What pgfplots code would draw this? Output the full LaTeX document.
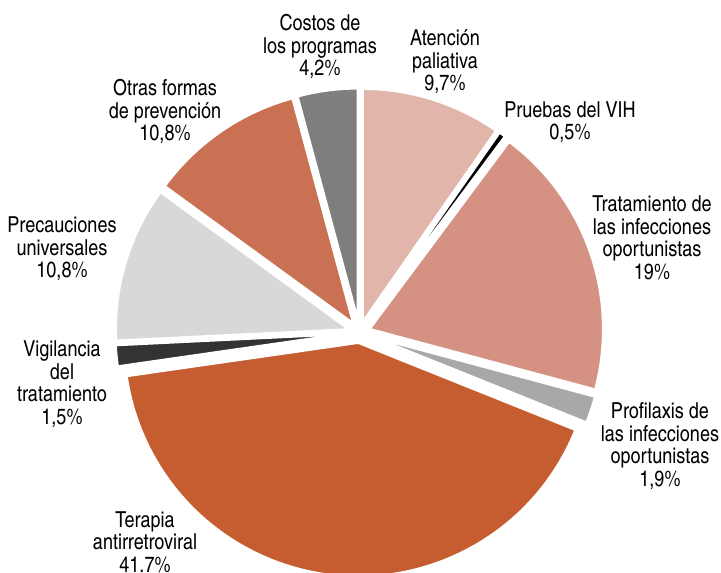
\documentclass[border=0pt]{standalone}
\usepackage{fontspec}
\setmainfont{TeX Gyre Heros Cn}
\usepackage{pgfplots}
\usepackage{pgfplotstable}
\pgfplotsset{compat=1.18}

\definecolor{cAten}{HTML}{E2B5AB}
\definecolor{cPrue}{HTML}{000000}
\definecolor{cTrat}{HTML}{D59282}
\definecolor{cProf}{HTML}{A8A8A8}
\definecolor{cTera}{HTML}{C55D30}
\definecolor{cVigi}{HTML}{333333}
\definecolor{cPrec}{HTML}{D8D8D8}
\definecolor{cOtra}{HTML}{C97152}
\definecolor{cCost}{HTML}{7E7F7D}

% shares in %, clockwise from the top
\pgfplotstableread[col sep=comma]{
value,color
9.7,cAten
0.5,cPrue
19,cTrat
1.9,cProf
41.7,cTera
1.5,cVigi
10.8,cPrec
10.8,cOtra
4.2,cCost
}\piedata

\def\pieCX{359.5}
\def\pieCY{240.5}
\def\pieR{234.5}
\def\pieE{10}
\def\pieTot{100.1}

\begin{document}
\begin{tikzpicture}[lbl/.style={align=center, font=\fontsize{22}{22.5}\selectfont}]
\begin{axis}[
  hide axis,
  scale only axis,
  width=721pt, height=573pt,
  xmin=0, xmax=721, ymin=0, ymax=573,
  enlargelimits=false,
  clip=true,
]
\def\cum{0}
\pgfmathsetmacro\degper{360/\pieTot}
\pgfplotsforeachungrouped \i in {0,...,8} {
  \pgfplotstablegetelem{\i}{value}\of\piedata \let\v\pgfplotsretval
  \pgfplotstablegetelem{\i}{color}\of\piedata \let\col\pgfplotsretval
  \pgfmathsetmacro\aA{90-\degper*\cum}
  \pgfmathsetmacro\aB{90-\degper*(\cum+\v)}
  \pgfmathsetmacro\aM{(\aA+\aB)/2}
  \pgfmathsetmacro\ox{\pieCX+\pieE*cos(\aM)}
  \pgfmathsetmacro\oy{\pieCY+\pieE*sin(\aM)}
  \pgfmathsetmacro\px{\ox+\pieR*cos(\aA)}
  \pgfmathsetmacro\py{\oy+\pieR*sin(\aA)}
  \edef\tmp{\noexpand\fill[fill=\col, draw=white, line width=3pt, line join=round]
    (axis cs:\ox,\oy) -- (axis cs:\px,\py)
    arc[start angle=\aA, end angle=\aB, radius=\pieR pt] -- cycle;}
  \tmp
  \pgfmathsetmacro\cum{\cum+\v}
}
\node[lbl] at (axis cs:320,526) {Costos de\\los programas\\4,2\%};
\node[lbl] at (axis cs:445,511) {Atención\\paliativa\\9,7\%};
\node[lbl] at (axis cs:570,451) {Pruebas del VIH\\0,5\%};
\node[lbl] at (axis cs:652,335) {Tratamiento de\\las infecciones\\oportunistas\\19\%};
\node[lbl] at (axis cs:660,127) {Profilaxis de\\las infecciones\\oportunistas\\1,9\%};
\node[lbl] at (axis cs:145,31) {Terapia\\antirretroviral\\41.7\%};
\node[lbl] at (axis cs:62,189) {Vigilancia\\del\\tratamiento\\1,5\%};
\node[lbl] at (axis cs:62,324) {Precauciones\\universales\\10,8\%};
\node[lbl] at (axis cs:165,461) {Otras formas\\de prevención\\10,8\%};
\coordinate (bl) at (rel axis cs:0,0);
\coordinate (tr) at (rel axis cs:1,1);
\end{axis}
\pgfresetboundingbox
\path (bl) rectangle (tr);
\end{tikzpicture}
\end{document}
